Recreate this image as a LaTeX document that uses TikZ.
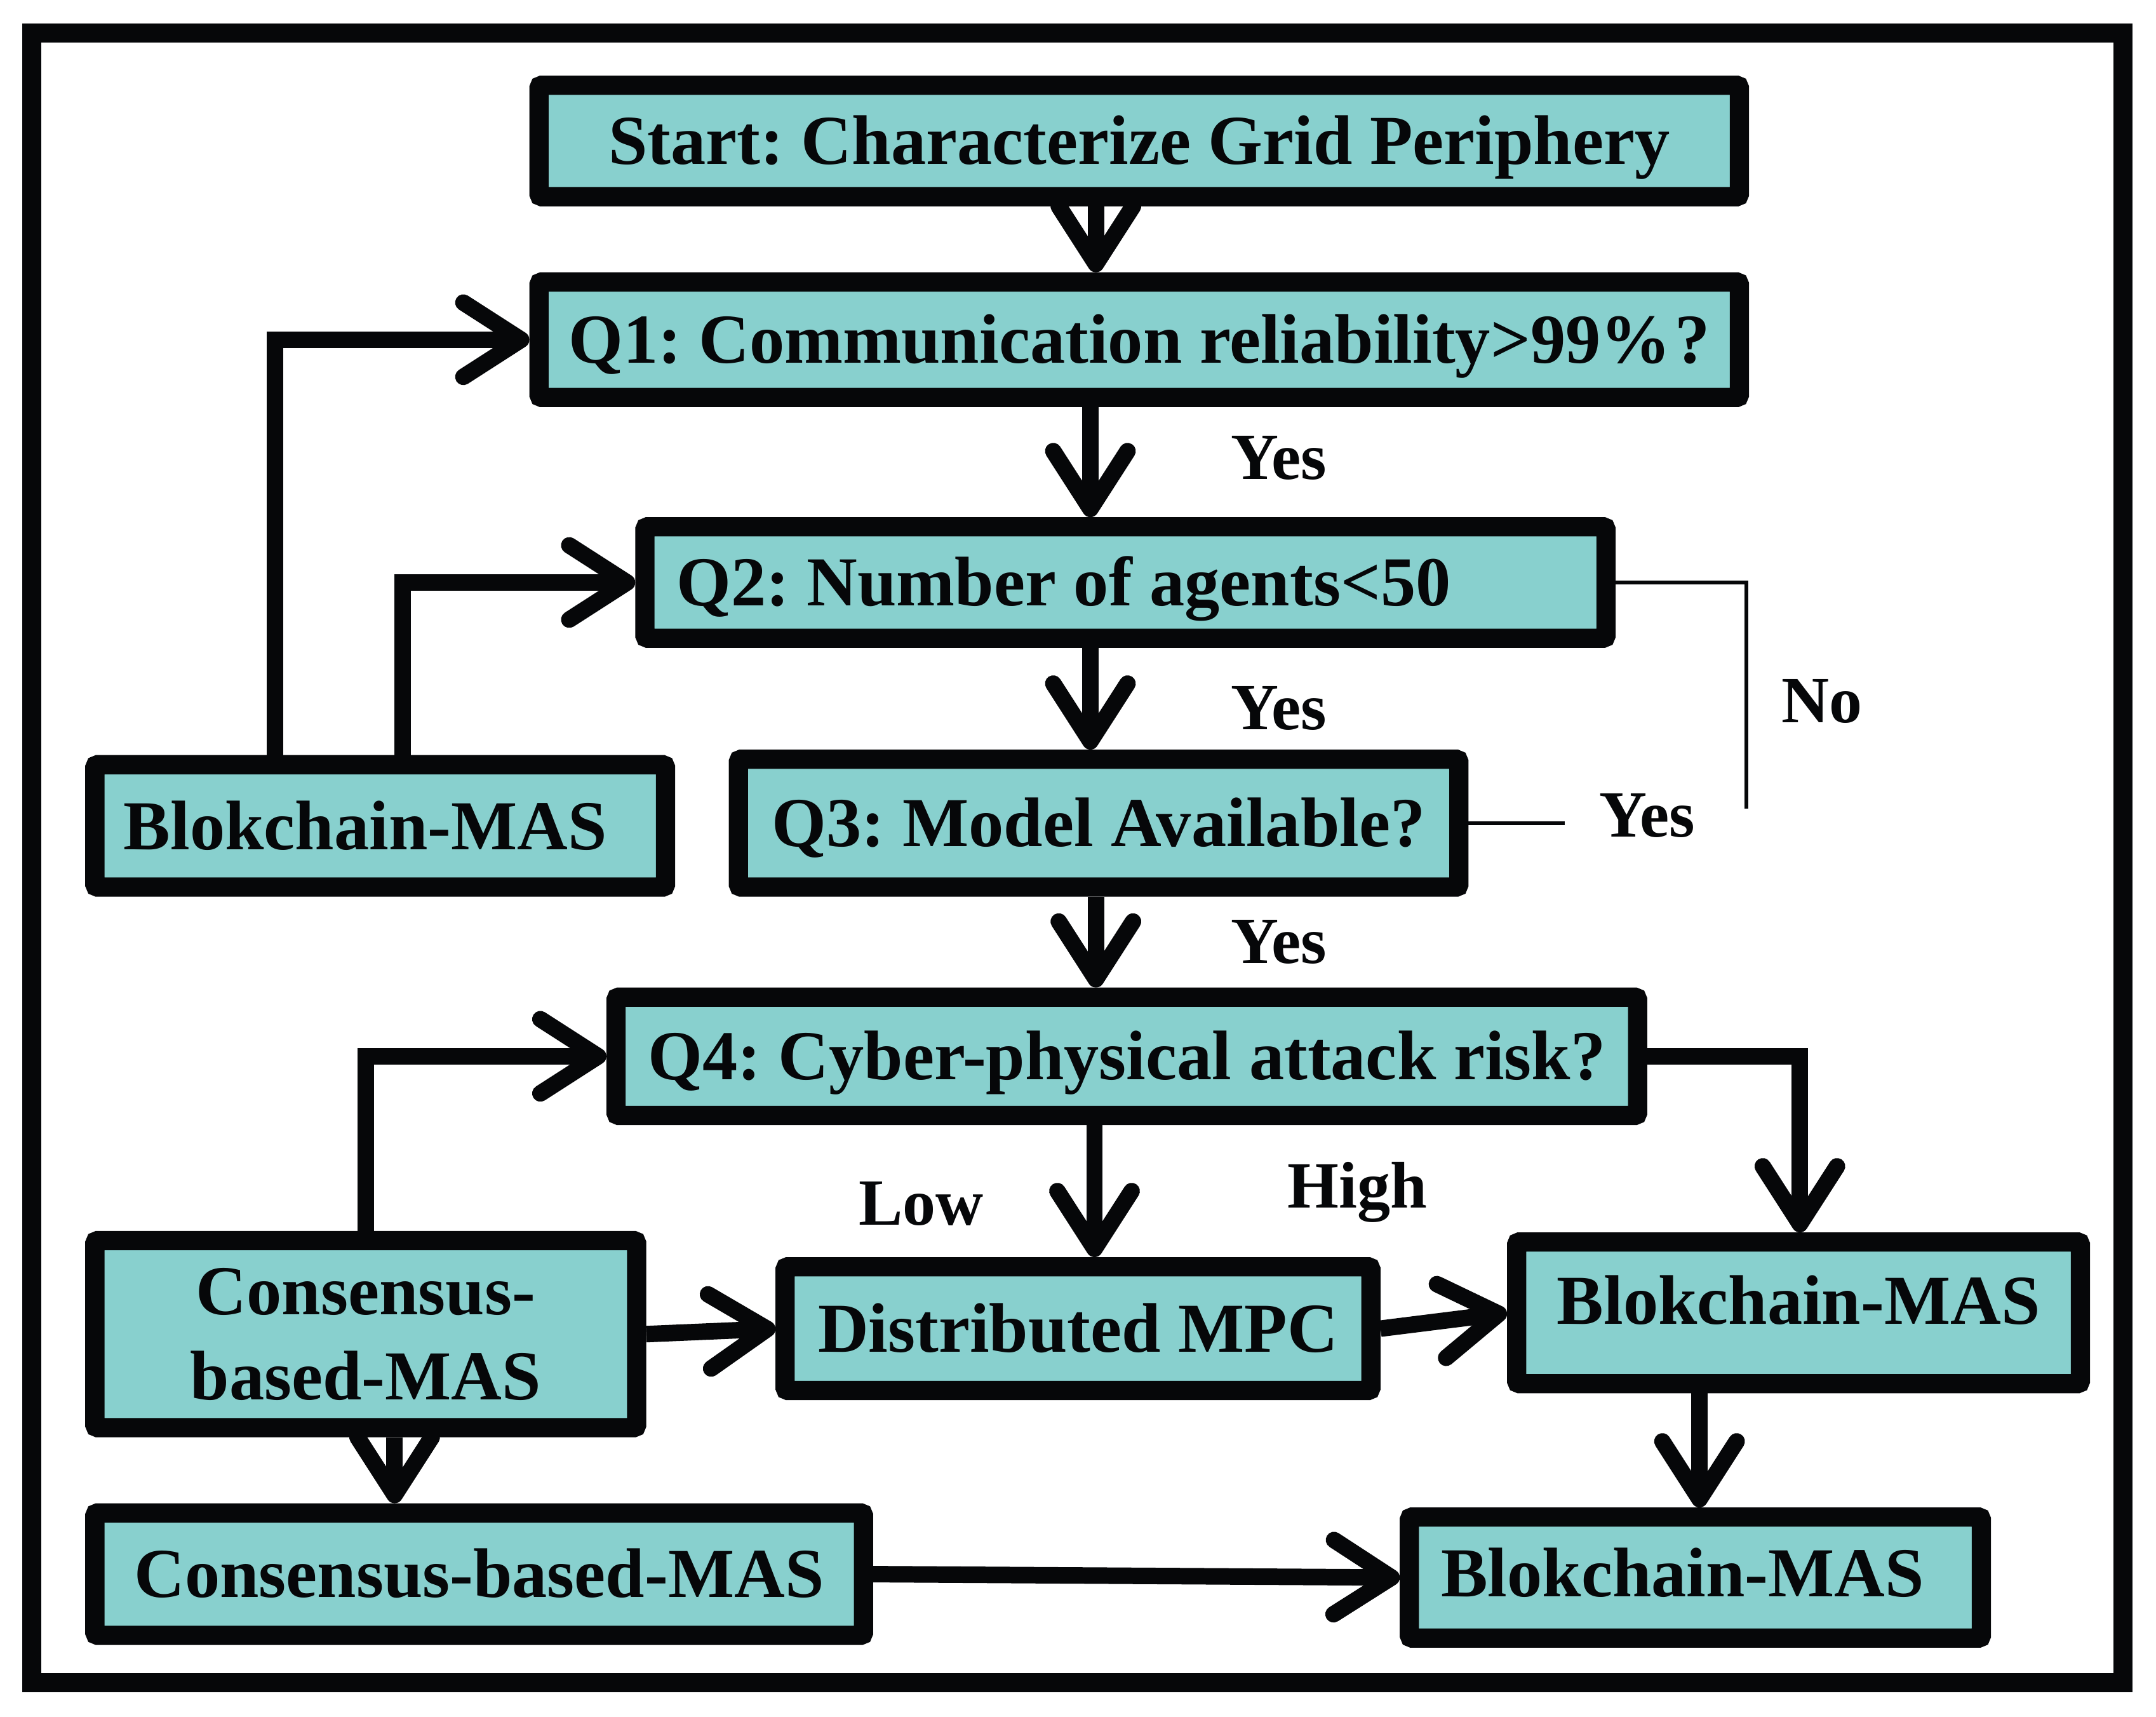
\documentclass[tikz,border=0pt]{standalone}
\usepackage{fontspec}
\setmainfont{Liberation Serif}
\usetikzlibrary{arrows.meta}
\definecolor{boxfill}{RGB}{136,208,206}
\definecolor{ink}{RGB}{6,7,9}
\begin{document}
\frenchspacing
\begin{tikzpicture}[x=1pt,y=-1pt,
  box/.style={draw=ink, fill=boxfill, line width=14pt, rounded corners=2pt, inner sep=0pt,
    font=\fontsize{51}{62}\selectfont\bfseries\frenchspacing, text=ink},
  capc/.style={text height=36pt, text depth=2pt},
  lbl/.style={font=\fontsize{48}{54}\selectfont\bfseries, text=ink, inner sep=0pt},
  conn/.style={draw=ink, line width=12pt, -{Straight Barb[length=42pt,width=54pt,round]}},
  thinline/.style={draw=ink, line width=3pt}]
\useasboundingbox (0,0) rectangle (1568,1248);
\draw[ink, line width=14pt] (23,24) rectangle (1544,1223.5);

% boxes
\node[box, capc, minimum width=873pt, minimum height=81pt] (start) at (828.5,102.5) {Start: Characterize Grid Periphery};
\node[box, capc, minimum width=873pt, minimum height=84pt] (q1) at (828.5,247) {Q1: Communication reliability>99\%\kern3pt?};
\node[box, capc, minimum width=699pt, minimum height=81pt] (q2) at (818.5,423.5) {\makebox[653pt][l]{Q2: Number of agents<50}};
\node[box, capc, minimum width=524pt, minimum height=93pt] (q3) at (799,598.5) {Q3: Model Available?};
\node[box, capc, minimum width=415pt, minimum height=89pt] (bl) at (276.5,600.5) {\makebox[373pt][l]{Blokchain-MAS}};
\node[box, capc, minimum width=743pt, minimum height=86pt] (q4) at (819.5,768) {Q4: Cyber-physical attack risk?};
\node[box, minimum width=394pt, minimum height=136pt, align=center] (cl) at (266,970) {Consensus-\\based-MAS};
\node[box, capc, minimum width=426pt, minimum height=90pt] (mpc) at (784,966) {Distributed MPC};
\node[box, text height=36pt, text depth=20pt, minimum width=410pt, minimum height=103pt] (br) at (1308,954.5) {Blokchain-MAS};
\node[box, capc, minimum width=559pt, minimum height=89pt] (cb) at (348.5,1144.5) {Consensus-based-MAS};
\node[box, text height=36pt, text depth=8pt, minimum width=416pt, minimum height=88pt] (bb) at (1233,1147) {\makebox[370pt][l]{Blokchain-MAS}};

% helper coordinates
\coordinate (xa) at (797,0);
\coordinate (xb) at (793,0);
\coordinate (xe) at (200,0);
\coordinate (xf) at (293,0);
\coordinate (xi) at (796,0);
\coordinate (xj) at (1309,0);
\coordinate (xn) at (287,0);
\coordinate (xo) at (1236,0);
\coordinate (ng) at (1270,588);
\coordinate (yh) at (1138,0);

% connectors
\draw[conn] (start.south -| xa) -- (q1.north -| xa);
\draw[conn] (q1.south -| xb) -- (q2.north -| xb);
\draw[conn] (q2.south -| xb) -- (q3.north -| xb);
\draw[conn] (q3.south -| xa) -- (q4.north -| xa);
\draw[conn] (bl.north -| xe) |- (q1.west);
\draw[conn] (bl.north -| xf) |- (q2.west);
\draw[thinline] (q2.east) -| (ng);
\draw[thinline] (q3.east) -- (q3.east -| yh);
\draw[conn] (q4.south -| xi) -- (mpc.north -| xi);
\draw[conn] (q4.east) -| (br.north -| xj);
\draw[conn] (cl.north) |- (q4.west);
\draw[conn] (cl.east) -- (mpc.west);
\draw[conn] (mpc.east) -- (br.west);
\draw[conn] (cl.south -| xn) -- (cb.north -| xn);
\draw[conn] (br.south -| xo) -- (bb.north -| xo);
\draw[conn] (cb.east) -- (bb.west);

% labels
\node[lbl] (y1) at (930,333) {Yes};
\node[lbl] (y2) at (930,515) {Yes};
\node[lbl] (y3) at (930,685) {Yes};
\node[lbl] (no) at (1325,510) {No};
\node[lbl] (y4) at (1198,593) {Yes};
\node[lbl] (low) at (670,875) {Low};
\node[lbl] (high) at (987,867) {High};
\end{tikzpicture}
\end{document}
